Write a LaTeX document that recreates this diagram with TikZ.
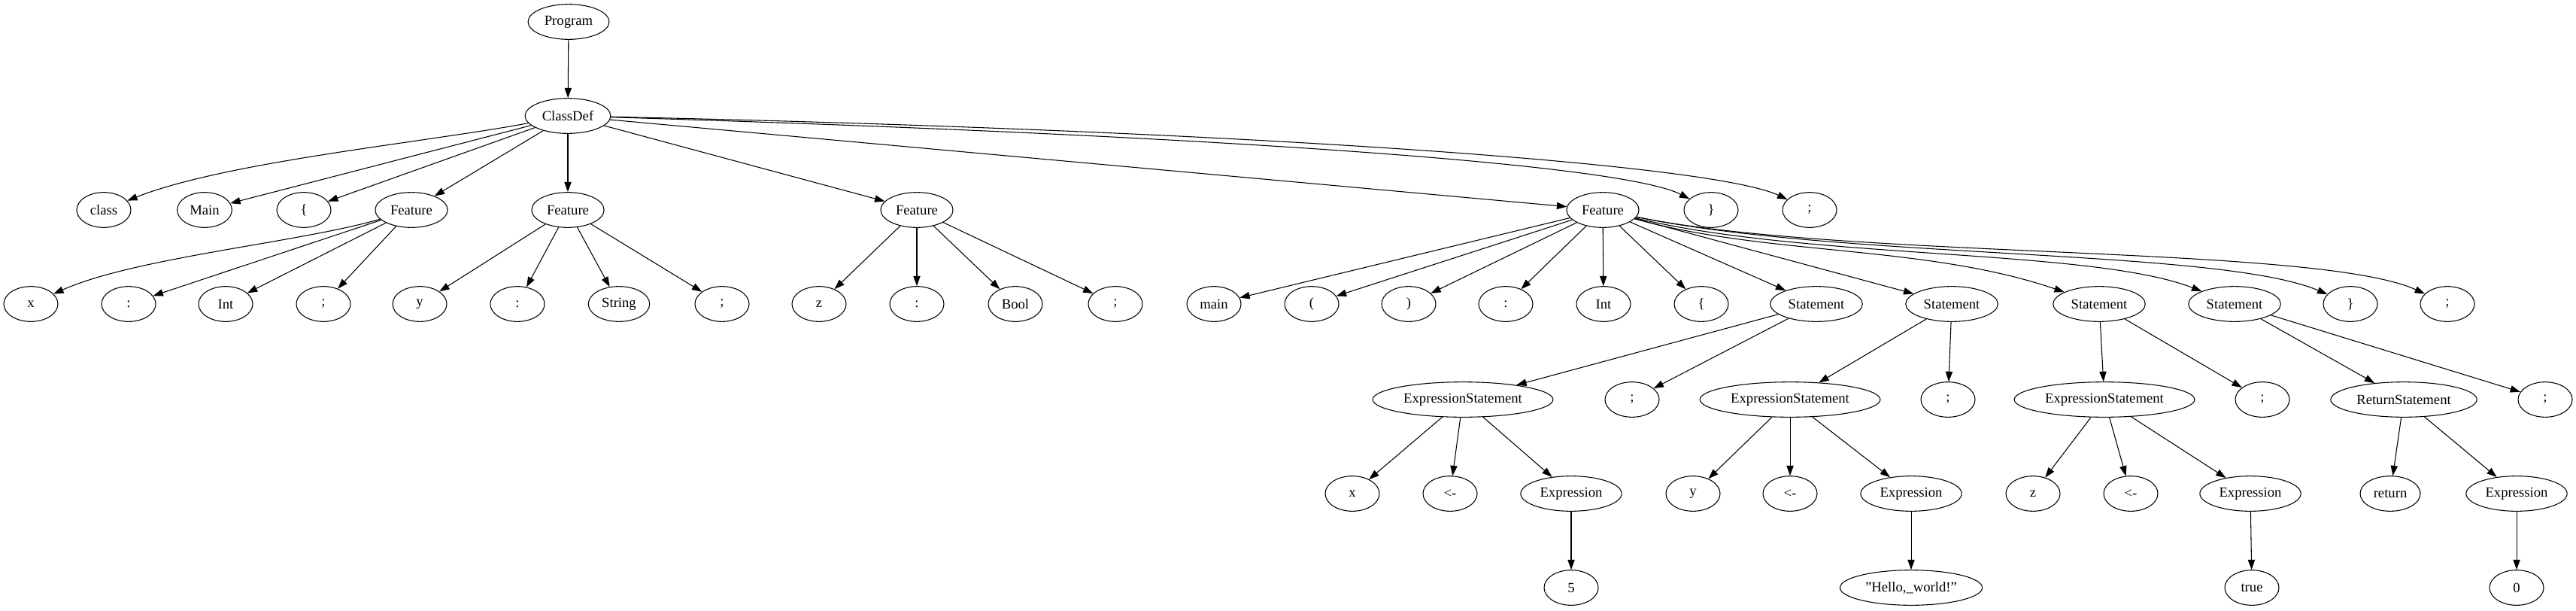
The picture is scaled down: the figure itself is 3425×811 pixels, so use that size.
\documentclass[tikz,border=0pt]{standalone}
\usepackage{fontspec}
\setmainfont{Liberation Serif}
\usetikzlibrary{shapes.geometric,arrows.meta}

\begin{document}
\begin{tikzpicture}[x=0.75pt,y=0.75pt,line width=0.8pt,
        tn/.style={draw,ellipse,minimum width=54pt,minimum height=35pt,inner xsep=4.5pt,font=\fontsize{14}{16}\selectfont},
        >={Triangle[length=10pt,width=7pt]}]
            \useasboundingbox (0,0) rectangle (3425,-811);
            \node[tn] (prog) at (756,-29) {Program};
            \node[tn] (cd) at (755,-154) {ClassDef};

            \node[tn] (kcls) at (138,-279) {class};
            \node[tn] (kmn) at (272,-279) {Main};
            \node[tn] (lbr) at (404,-279) {\{};
            \node[tn] (fa) at (547,-279) {Feature};
            \node[tn] (fb) at (755,-279) {Feature};
            \node[tn] (fc) at (1219,-279) {Feature};
            \node[tn] (fd) at (2131,-279) {Feature};
            \node[tn] (rbr) at (2275,-279) {\}};
            \node[tn] (semi) at (2406,-279) {;};

            \node[tn] (xa) at (41,-404) {x};
            \node[tn] (cla) at (171,-404) {:};
            \node[tn] (ta) at (300,-404) {Int};
            \node[tn] (sa) at (430,-404) {;};
            \node[tn] (ya) at (558,-404) {y};
            \node[tn] (clb) at (688,-404) {:};
            \node[tn] (tb) at (823,-404) {String};
            \node[tn] (sb) at (960,-404) {;};
            \node[tn] (za) at (1089,-404) {z};
            \node[tn] (clc) at (1219,-404) {:};
            \node[tn] (tc) at (1350,-404) {Bool};
            \node[tn] (sc) at (1483,-404) {;};
            \node[tn] (mn) at (1614,-404) {main};
            \node[tn] (lp) at (1744,-404) {(};
            \node[tn] (rp) at (1873,-404) {)};
            \node[tn] (cld) at (2002,-404) {:};
            \node[tn] (td) at (2132,-404) {Int};
            \node[tn] (lb) at (2262,-404) {\{};
            \node[tn] (st1) at (2415,-404) {Statement};
            \node[tn] (st2) at (2595,-404) {Statement};
            \node[tn] (st3) at (2791,-404) {Statement};
            \node[tn] (st4) at (2971,-404) {Statement};
            \node[tn] (rb) at (3125,-404) {\}};
            \node[tn] (sd) at (3254,-404) {;};

            \node[tn] (es1) at (1945,-531) {ExpressionStatement};
            \node[tn] (s1) at (2170,-531) {;};
            \node[tn] (es2) at (2380,-531) {ExpressionStatement};
            \node[tn] (s2) at (2590,-531) {;};
            \node[tn] (es3) at (2798,-531) {ExpressionStatement};
            \node[tn] (s3) at (3008,-531) {;};
            \node[tn] (ret) at (3196,-531) {ReturnStatement};
            \node[tn] (s4) at (3384,-531) {;};

            \node[tn] (xb) at (1798,-656) {x};
            \node[tn] (as1) at (1928,-656) {<-};
            \node[tn] (ex1) at (2089,-656) {Expression};
            \node[tn] (yb) at (2251,-656) {y};
            \node[tn] (as2) at (2380,-656) {<-};
            \node[tn] (ex2) at (2541,-656) {Expression};
            \node[tn] (zb) at (2703,-656) {z};
            \node[tn] (as3) at (2833,-656) {<-};
            \node[tn] (ex3) at (2992,-656) {Expression};
            \node[tn] (kret) at (3178,-656) {return};
            \node[tn] (ex4) at (3346,-656) {Expression};

            \node[tn] (v1) at (2089,-781) {5};
            \node[tn] (v2) at (2541,-781) {"Hello,\_world!"};
            \node[tn] (v3) at (2994,-781) {true};
            \node[tn] (v4) at (3346,-781) {0};

            \draw[->] (prog) -- (cd);
            \draw[->] (cd) .. controls (560,-190) and (300,-215) .. (kcls);
            \draw[->] (cd) -- (kmn);
            \draw[->] (cd) -- (lbr);
            \draw[->] (cd) -- (fa);
            \draw[->] (cd) -- (fb);
            \draw[->] (cd) -- (fc);
            \draw[->] (cd) -- (fd);
            \draw[->] (cd) .. controls (1550,-178) and (2150,-215) .. (rbr);
            \draw[->] (cd) .. controls (1600,-172) and (2270,-215) .. (semi);

            \draw[->] (fa) .. controls (400,-322) and (180,-342) .. (xa);
            \draw[->] (fa) -- (cla);
            \draw[->] (fa) -- (ta);
            \draw[->] (fa) -- (sa);
            \draw[->] (fb) -- (ya);
            \draw[->] (fb) -- (clb);
            \draw[->] (fb) -- (tb);
            \draw[->] (fb) -- (sb);
            \draw[->] (fc) -- (za);
            \draw[->] (fc) -- (clc);
            \draw[->] (fc) -- (tc);
            \draw[->] (fc) -- (sc);

            \draw[->] (fd) -- (mn);
            \draw[->] (fd) -- (lp);
            \draw[->] (fd) -- (rp);
            \draw[->] (fd) -- (cld);
            \draw[->] (fd) -- (td);
            \draw[->] (fd) -- (lb);
            \draw[->] (fd) -- (st1);
            \draw[->] (fd) -- (st2);
            \draw[->] (fd) .. controls (2350,-340) and (2560,-325) .. (st3);
            \draw[->] (fd) .. controls (2400,-345) and (2780,-330) .. (st4);
            \draw[->] (fd) .. controls (2450,-345) and (2950,-330) .. (rb);
            \draw[->] (fd) .. controls (2450,-345) and (3080,-325) .. (sd);

            \draw[->] (st1) -- (es1);
            \draw[->] (st1) -- (s1);
            \draw[->] (st2) -- (es2);
            \draw[->] (st2) -- (s2);
            \draw[->] (st3) -- (es3);
            \draw[->] (st3) -- (s3);
            \draw[->] (st4) -- (ret);
            \draw[->] (st4) -- (s4);

            \draw[->] (es1) -- (xb);
            \draw[->] (es1) -- (as1);
            \draw[->] (es1) -- (ex1);
            \draw[->] (ex1) -- (v1);
            \draw[->] (es2) -- (yb);
            \draw[->] (es2) -- (as2);
            \draw[->] (es2) -- (ex2);
            \draw[->] (ex2) -- (v2);
            \draw[->] (es3) -- (zb);
            \draw[->] (es3) -- (as3);
            \draw[->] (es3) -- (ex3);
            \draw[->] (ex3) -- (v3);
            \draw[->] (ret) -- (kret);
            \draw[->] (ret) -- (ex4);
            \draw[->] (ex4) -- (v4);
        \end{tikzpicture}
\end{document}
